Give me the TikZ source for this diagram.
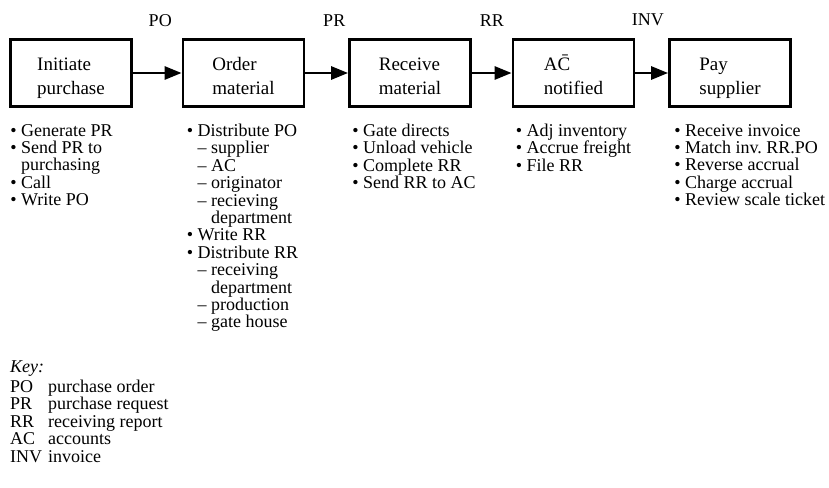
\documentclass[tikz,border=0pt]{standalone}
\usepackage{fontspec}
\setmainfont{Liberation Serif}
\usetikzlibrary{positioning, arrows.meta}
\newcommand{\stagestrut}{\rule[-6pt]{0pt}{54pt}}
\tikzstyle{stage} = [rectangle, minimum width = 121pt, minimum height = 67pt, align = left, execute at begin node = \stagestrut, draw = black, line width = 2.8pt, font = \fontsize{19}{24}\selectfont]
\tikzstyle{tasks} = [anchor = north west, align = left, inner sep = 0pt, font = \fontsize{18}{17.4}\selectfont]
\tikzstyle{doc} = [font = \fontsize{18}{17.4}\selectfont]
\tikzstyle{arrow} = [line width = 2.8pt, -{Triangle[length = 17pt, width = 13pt]}]
\newcommand{\bl}{\textbullet\ }
\newcommand{\blgap}{\phantom{\textbullet\ }}
\newcommand{\dsh}{\blgap-- }
\newcommand{\dshgap}{\blgap\phantom{-- }}

\begin{document}
\begin{tikzpicture}[x = 1pt, y = 1pt, node distance = 165pt]
    \useasboundingbox (0,0) rectangle (829,-487);
    % stages
    \node(init)[stage] at (71,-73){Initiate\\purchase};
    \node(order)[stage, right of = init, xshift = 7.5pt]{Order\\material};
    \node(recv)[stage, right of = order, xshift = 1.5pt]{Receive\\material};
    \node(acct)[stage, right of = recv, xshift = -1.5pt]{A\={C}\\notified};
    \node(pay)[stage, right of = acct, xshift = -8.5pt]{Pay\\supplier};

    % documents passed on
    \draw[arrow](init)--node(lpo)[doc, above, yshift = 42pt, xshift = 3pt]{PO}(order);
    \draw[arrow](order)--node(lpr)[doc, above, yshift = 42pt, xshift = 7.5pt]{PR}(recv);
    \draw[arrow](recv)--node(lrr)[doc, above, yshift = 42pt]{RR}(acct);
    \draw[arrow](acct)--node(linv)[doc, above, yshift = 42pt, xshift = -4pt]{INV}(pay);

    % tasks under each stage
    \node(todo1)[tasks] at ([xshift = 1pt, yshift = -16pt]init.south west){\bl Generate PR\\\bl Send PR to\\\blgap purchasing\\\bl Call\\\bl Write PO};
    \node(todo2)[tasks] at ([xshift = 5pt, yshift = -16pt]order.south west){\bl Distribute PO\\\dsh supplier\\\dsh AC\\\dsh originator\\\dsh recieving\\\dshgap department\\\bl Write RR\\\bl Distribute RR\\\dsh receiving\\\dshgap department\\\dsh production\\\dsh gate house};
    \node(todo3)[tasks] at ([xshift = 4pt, yshift = -16pt]recv.south west){\bl Gate directs\\\bl Unload vehicle\\\bl Complete RR\\\bl Send RR to AC};
    \node(todo4)[tasks] at ([xshift = 4pt, yshift = -16pt]acct.south west){\bl Adj inventory\\\bl Accrue freight\\\bl File RR};
    \node(todo5)[tasks] at ([xshift = 6pt, yshift = -16pt]pay.south west){\bl Receive invoice\\\bl Match inv.\ RR.PO\\\bl Reverse accrual\\\bl Charge accrual\\\bl Review scale ticket};

    % key
    \node(key)[tasks, font = \fontsize{18}{17.5}\selectfont] at (10,-361){\textit{Key:}\\[2pt]\makebox[38pt][l]{PO}purchase order\\\makebox[38pt][l]{PR}purchase request\\\makebox[38pt][l]{RR}receiving report\\\makebox[38pt][l]{AC}accounts\\\makebox[38pt][l]{INV}invoice};
\end{tikzpicture}
\end{document}
